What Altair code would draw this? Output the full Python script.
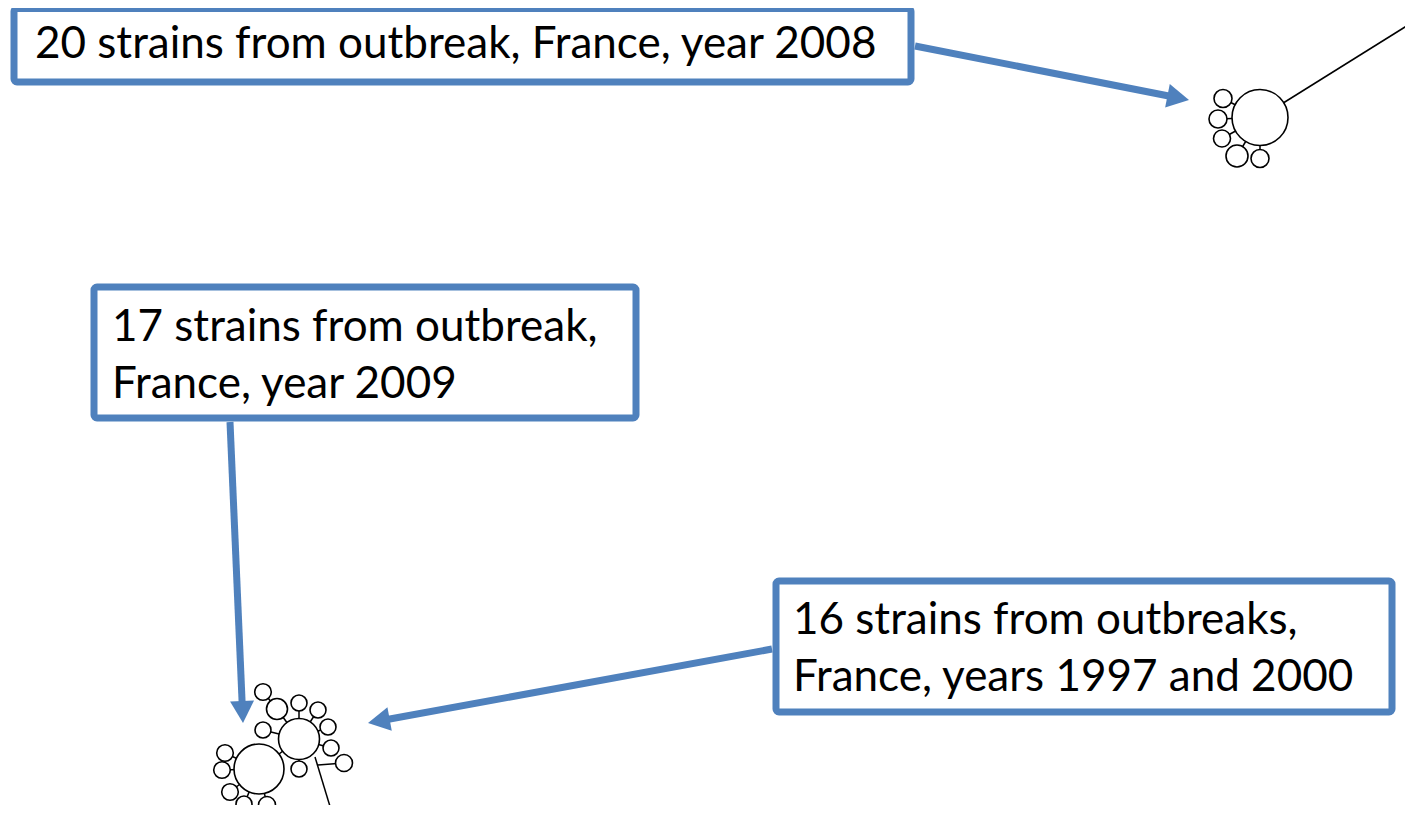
import math
import altair as alt
import pandas as pd

BLUE = "#4F81BD"

# ---- callout boxes (centre line of the border, page pixels) ----
box_x1 = [14, 94, 776]
box_x2 = [911, 636, 1392]
box_y1 = [8.5, 287, 581]
box_y2 = [82, 418, 712]

# ---- callout text lines ----
text_lines = [
    "20 strains from outbreak, France, year 2008",
    "17 strains from outbreak,",
    "France, year 2009",
    "16 strains from outbreaks,",
    "France, years 1997 and 2000",
]
text_x = [35, 112, 112, 793, 793]
text_y = [58, 341, 398, 634, 691]

# ---- arrows (start -> tip) ----
arrow_x1 = [915, 230, 772]
arrow_y1 = [46, 422, 649]
arrow_x2 = [1189, 243, 368]
arrow_y2 = [100, 723, 723]

# ---- tree nodes (strain groups) ----
node_x = [1260, 1223, 1218, 1222, 1237, 1260,
          259, 299, 225, 222, 230, 244, 267,
          263, 277, 299, 318, 328, 331, 344, 299, 263]
node_y = [117.5, 98.5, 119, 138.5, 156, 158.5,
          769, 739, 753, 770, 792, 804, 805,
          692, 709, 703, 710, 727, 748, 763, 769, 730]
node_r = [28, 9, 9, 8.5, 11, 9,
          25, 20.5, 8.3, 8.3, 8.3, 8, 8.5,
          8.3, 10.5, 8, 8, 8, 8, 8.5, 8, 8]

# ---- edges between nodes ----
edge_a = [1, 2, 3, 4, 5, 8, 9, 10, 11, 12, 6, 13, 14, 15, 16, 17, 18, 20, 21]
edge_b = [0, 0, 0, 0, 0, 6, 6, 6, 6, 6, 7, 14, 7, 7, 7, 7, 7, 7, 7]

# ---- free branches of the tree ----
branch_x1 = [1260, 315, 318]
branch_y1 = [117.5, 757, 765]
branch_x2 = [1413, 332, 344]
branch_y2 = [22, 813, 763]

# ---------------------------------------------------------------
xs = alt.Scale(domain=[8, 1405], nice=False, zero=False)
ys = alt.Scale(domain=[8, 805], reverse=True, nice=False, zero=False)

def X(f):
    return alt.X(f, type="quantitative", scale=xs, axis=None)

def Y(f):
    return alt.Y(f, type="quantitative", scale=ys, axis=None)

# tree lines
tree_df = pd.DataFrame({
    "x": [node_x[a] for a in edge_a] + branch_x1,
    "y": [node_y[a] for a in edge_a] + branch_y1,
    "x2": [node_x[b] for b in edge_b] + branch_x2,
    "y2": [node_y[b] for b in edge_b] + branch_y2,
})
tree = alt.Chart(tree_df).mark_rule(color="black", strokeWidth=1.5).encode(
    x=X("x"), y=Y("y"), x2="x2", y2="y2")

nodes_df = pd.DataFrame({"x": node_x, "y": node_y,
                         "s": [(2 * r) ** 2 for r in node_r]})
nodes = alt.Chart(nodes_df).mark_point(
    shape="circle", filled=True, fill="white", stroke="black",
    strokeWidth=1.6, opacity=1, fillOpacity=1, strokeOpacity=1
).encode(x=X("x"), y=Y("y"), size=alt.Size("s:Q", scale=None))

boxes_df = pd.DataFrame({"x": box_x1, "x2": box_x2, "y": box_y1, "y2": box_y2})
boxes = alt.Chart(boxes_df).mark_rect(
    fill="white", stroke=BLUE, strokeWidth=7, cornerRadius=3
).encode(x=X("x"), x2="x2", y=Y("y"), y2="y2")

text_df = pd.DataFrame({"x": text_x, "y": text_y, "t": text_lines})
texts = alt.Chart(text_df).mark_text(
    align="left", baseline="alphabetic", font="Lato", fontSize=44, color="black"
).encode(x=X("x"), y=Y("y"), text="t:N")

HEAD = 24.0      # symbol box side -> tip is HEAD/2 from centre
HEAD_LEN = 22.0
shaft_rows, head_rows = [], []
for x1, y1, x2, y2 in zip(arrow_x1, arrow_y1, arrow_x2, arrow_y2):
    dx, dy = x2 - x1, y2 - y1
    L = math.hypot(dx, dy)
    ux, uy = dx / L, dy / L
    shaft_rows.append({"x": x1, "y": y1,
                       "x2": x2 - ux * (HEAD_LEN - 4), "y2": y2 - uy * (HEAD_LEN - 4)})
    head_rows.append({"x": x2 - ux * HEAD / 2, "y": y2 - uy * HEAD / 2,
                      "a": math.degrees(math.atan2(dy, dx)) % 360,
                      "s": HEAD ** 2})
shafts = alt.Chart(pd.DataFrame(shaft_rows)).mark_rule(
    color=BLUE, strokeWidth=7, strokeCap="butt"
).encode(x=X("x"), y=Y("y"), x2="x2", y2="y2")

heads = alt.Chart(pd.DataFrame(head_rows)).mark_point(
    shape="M1,0 L-0.83,-1 L-0.83,1 Z", filled=True, color=BLUE,
    opacity=1, strokeWidth=0
).encode(x=X("x"), y=Y("y"), size=alt.Size("s:Q", scale=None),
         angle=alt.Angle("a:Q", scale=None))

chart = alt.layer(tree, nodes, boxes, texts, shafts, heads).properties(
    width=1397, height=797, padding=0,
    autosize=alt.AutoSizeParams(type="none"),
    background="white",
).configure_view(stroke=None)

chart.save("out.html", embed_options={"renderer": "svg", "actions": False})
